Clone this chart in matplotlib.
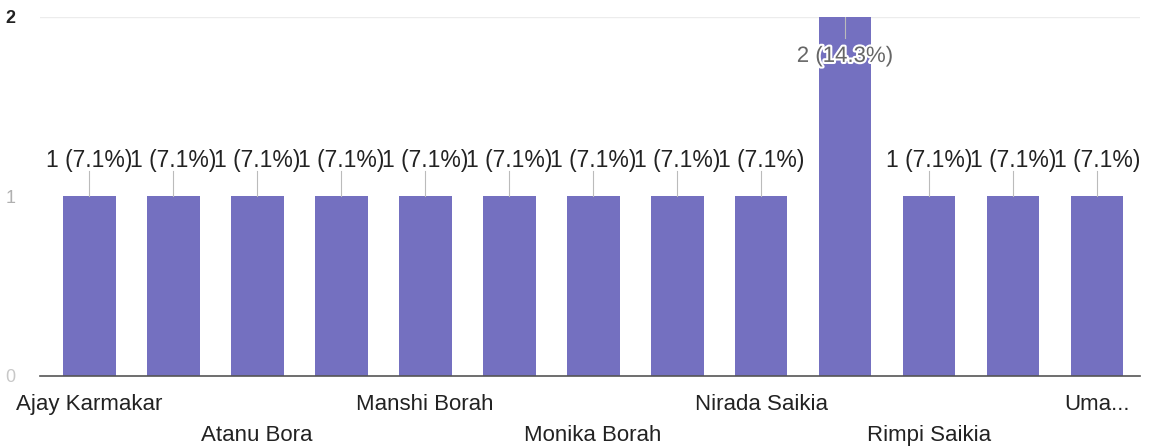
import matplotlib.pyplot as plt
import matplotlib.patheffects as pe

plt.rcParams['font.family'] = ['Liberation Sans', 'DejaVu Sans']

# responses per name (only every other name fits under the axis)
names = ["Ajay Karmakar", "", "Atanu Bora", "", "Manshi Borah", "", "Monika Borah",
         "", "Nirada Saikia", "", "Rimpi Saikia", "", "Uma..."]
counts = [1, 1, 1, 1, 1, 1, 1, 1, 1, 2, 1, 1, 1]
total = 14
bar_color = '#7470c0'

fig = plt.figure(figsize=(11.49, 4.46), dpi=100)
ax = fig.add_axes([0.035, 0.157, 0.957, 0.805])

x = list(range(len(counts)))
ax.bar(x, counts, width=0.63, color=bar_color, zorder=2)

ax.set_xlim(-0.583, 12.51)
ax.set_ylim(0, 2)
ax.set_yticks([0, 1, 2])
ax.set_yticklabels(['0', '1', '2'], fontsize=13)
for lab, c in zip(ax.get_yticklabels(), ['#c8c8c8', '#b0b0b0', '#222222']):
    lab.set_color(c)
    if c == '#222222':
        lab.set_fontweight('bold')
ax.tick_params(axis='y', length=0, pad=18)
ax.tick_params(axis='x', length=0)
ax.set_xticks([])
ax.axhline(2, color='#ececec', lw=1, zorder=0)
for s in ['top', 'right', 'left']:
    ax.spines[s].set_visible(False)
ax.spines['bottom'].set_color('#555555')
ax.spines['bottom'].set_linewidth(1.2)

# value labels with leader lines
for xi, v in zip(x, counts):
    pct = v / total * 100
    txt = f"{v} ({pct:.1f}%)"
    if v < max(counts):
        ax.plot([xi, xi], [v, v + 0.14], color='#bbbbbb', lw=0.8, zorder=3)
        ax.text(xi, v + 0.2, txt, ha='center', va='center', fontsize=16.5,
                color='#222222', zorder=4)
    else:
        ax.plot([xi, xi], [v, v - 0.12], color='#bbbbbb', lw=0.8, zorder=3)
        ax.text(xi, v - 0.22, txt, ha='center', va='center', fontsize=16,
                color='#666666', zorder=4,
                path_effects=[pe.withStroke(linewidth=3, foreground='white')])

# staggered category labels
for i, name in enumerate(names):
    if not name:
        continue
    row = 0 if (i // 2) % 2 == 0 else 1
    ax.text(i, -0.16 - row * 0.17, name, ha='center', va='center',
            fontsize=16, color='#222222', transform=ax.transData, clip_on=False)

fig.savefig('out.png', dpi=100)
